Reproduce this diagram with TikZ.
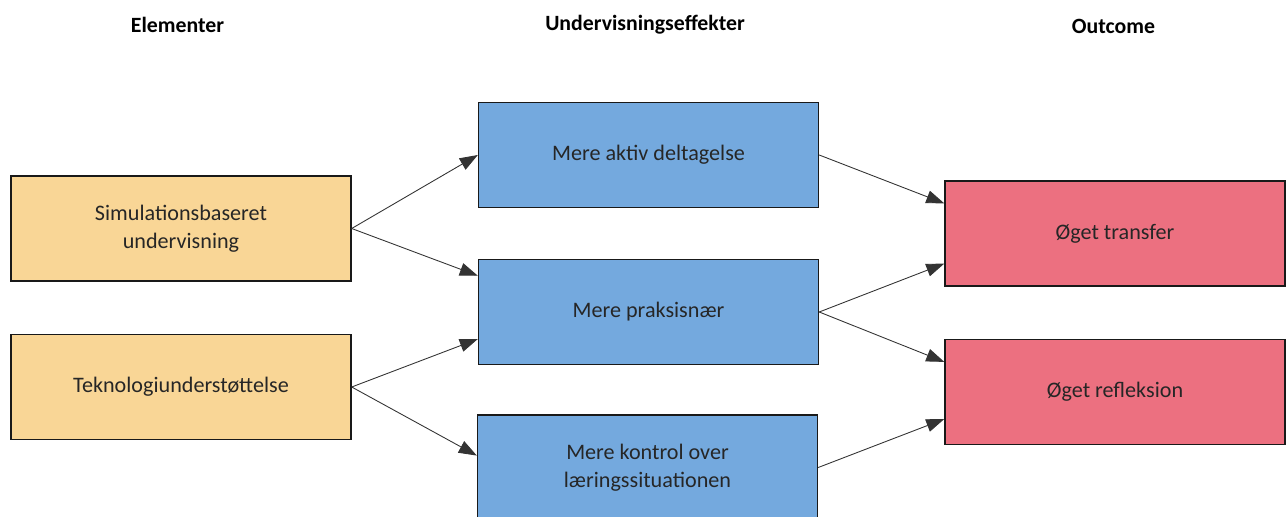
\documentclass[tikz,border=0pt]{standalone}
\usepackage{fontspec}
\setmainfont{Carlito}
\usetikzlibrary{arrows.meta}
\definecolor{elemfarve}{RGB}{249,214,150}
\definecolor{effektfarve}{RGB}{116,169,222}
\definecolor{outfarve}{RGB}{236,112,128}
\tikzset{
    every node/.style={font=\fontsize{12.6}{16}\selectfont, text=black!85},
    boks/.style={rectangle, draw=black!90, line width=0.8pt,
        minimum width=6.8cm, minimum height=2.1cm, align=center},
    elem/.style={boks, fill=elemfarve},
    effekt/.style={boks, fill=effektfarve},
    outc/.style={boks, fill=outfarve},
    hoved/.style={font=\fontsize{12.4}{14}\selectfont\bfseries, text=black},
    pil/.style={draw=black!80, line width=0.5pt,
        -{Triangle[length=3.6mm, width=2.6mm]}}
}

\begin{document}
\begin{tikzpicture}
	\useasboundingbox (0cm, 0cm) rectangle (25.72cm, -10.34cm);
	\node (h1) [hoved] at (3.55cm, -0.5cm) {Elementer};
	\node (h2) [hoved] at (12.9cm, -0.5cm) {Undervisningseffekter};
	\node (h3) [hoved] at (22.27cm, -0.52cm) {Outcome};

	\node (e1) [elem] at (3.62cm, -4.57cm) {Simulationsbaseret\\undervisning};
	\node (e2) [elem] at (3.62cm, -7.74cm) {Teknologiunderstøttelse};
	\node (u1) [effekt] at (12.97cm, -3.10cm) {Mere aktiv deltagelse};
	\node (u2) [effekt] at (12.97cm, -6.24cm) {Mere praksisnær};
	\node (u3) [effekt] at (12.95cm, -9.35cm) {Mere kontrol over\\læringssituationen};
	\node (o1) [outc] at (22.30cm, -4.67cm) {Øget transfer};
	\node (o2) [outc] at (22.30cm, -7.84cm) {Øget refleksion};

	\path (e1.east) edge[pil] (u1.west); \path (e1.east) edge[pil] (u2.168);
	\path (e2.east) edge[pil] (u2.189); \path (e2.east) edge[pil] (u3.176);

	\path (u1.east) edge[pil] (o1.170); \path (u2.east) edge[pil] (o1.190);
	\path (u2.east) edge[pil] (o2.170); \path (u3.east) edge[pil] (o2.189);
\end{tikzpicture}
\end{document}
